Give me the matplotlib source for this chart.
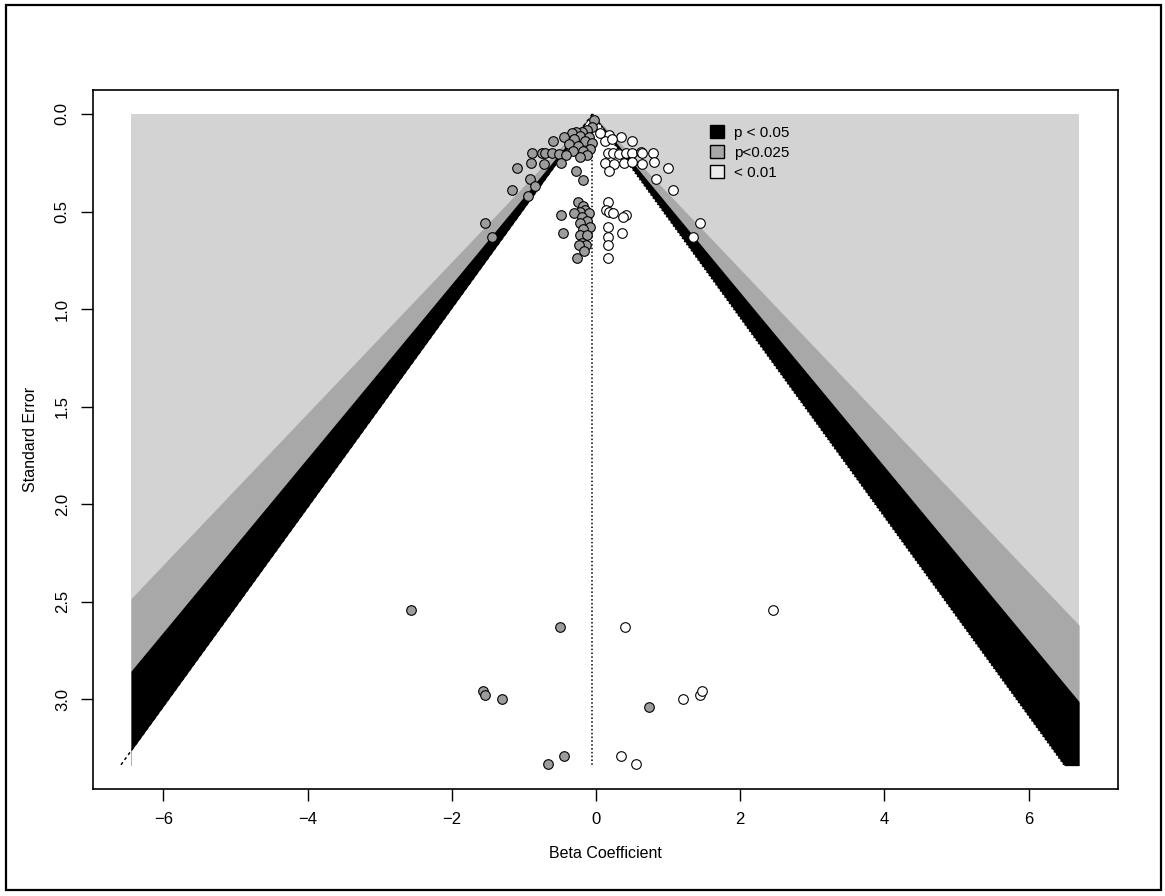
import numpy as np
import matplotlib
matplotlib.use("Agg")
import matplotlib.pyplot as plt
from matplotlib.patches import Patch, Rectangle

plt.rcParams["font.family"] = ["Liberation Sans", "DejaVu Sans"]

# Study estimates (beta coefficient, standard error)
observed_beta = [
    -0.03, -0.05, -0.12, -0.19, -0.28, -0.34, -0.44, -0.60, -0.22, -0.10,
    -0.30, -0.15, -0.05, -0.38, -0.25, -0.08, -0.18, -0.32, -0.12,
    -0.89, -0.75, -0.71, -0.61, -0.51, -0.42, -0.22,
    -0.90, -0.72, -0.48, -1.10, -0.28, -0.91, -0.18, -1.16, -0.84, -0.95,
    -1.54, -1.44,
    -0.25, -0.18, -0.15, -0.22, -0.30, -0.10, -0.48, -0.20, -0.12, -0.22,
    -0.08, -0.18, -0.46, -0.22, -0.12, -0.20, -0.14, -0.24, -0.16, -0.27,
    -2.56, -0.50, -1.57, -1.54, -1.30, 0.74, -0.44, -0.66,
]
observed_se = [
    0.03, 0.065, 0.08, 0.09, 0.095, 0.10, 0.116, 0.137, 0.115, 0.12,
    0.13, 0.14, 0.15, 0.155, 0.165, 0.18, 0.19, 0.19, 0.21,
    0.20, 0.20, 0.20, 0.20, 0.205, 0.21, 0.22,
    0.25, 0.255, 0.25, 0.275, 0.29, 0.335, 0.34, 0.39, 0.37, 0.42,
    0.56, 0.63,
    0.45, 0.47, 0.49, 0.50, 0.51, 0.51, 0.52, 0.53, 0.55, 0.56,
    0.58, 0.59, 0.61, 0.62, 0.62, 0.66, 0.67, 0.67, 0.70, 0.74,
    2.54, 2.63, 2.96, 2.98, 3.00, 3.04, 3.29, 3.33,
]

# Filled-in (imputed) studies
imputed_beta = [
    0.18, 0.34, 0.50, 0.13, 0.05, 0.22,
    0.16, 0.23, 0.32, 0.41, 0.50, 0.62, 0.64, 0.79,
    0.12, 0.25, 0.39, 0.50, 0.64, 0.81,
    1.00, 0.18, 0.83, 1.07, 1.44, 1.34,
    0.16, 0.14, 0.18, 0.24, 0.41, 0.38, 0.17, 0.36, 0.16, 0.16, 0.17,
    0.40, 2.46, 1.20, 1.44, 1.47, 0.35, 0.56,
]
imputed_se = [
    0.108, 0.12, 0.137, 0.14, 0.10, 0.13,
    0.20, 0.20, 0.205, 0.20, 0.20, 0.195, 0.20, 0.20,
    0.25, 0.255, 0.25, 0.245, 0.255, 0.245,
    0.275, 0.29, 0.335, 0.39, 0.56, 0.63,
    0.45, 0.49, 0.50, 0.51, 0.52, 0.53, 0.58, 0.61, 0.63, 0.67, 0.74,
    2.63, 2.54, 3.00, 2.98, 2.96, 3.29, 3.33,
]

center = -0.05
x_range = (-6.45, 6.70)
se_max = 3.34
z_levels = [2.576, 2.241, 1.960]
level_colors = ["#a8a8a8", "black", "white"]
legend_labels = ["p < 0.05", "p<0.025", "< 0.01"]
legend_colors = ["black", "#a8a8a8", "#ececec"]

fig = plt.figure(figsize=(11.65, 8.96), dpi=100)
ax = fig.add_axes([0.0796, 0.1194, 0.8801, 0.7802])

# Contour shading
ax.fill_between(x_range, 0, se_max, color="#d3d3d3", lw=0, zorder=0, antialiased=False)
for z, col in zip(z_levels, level_colors):
    # the innermost (white) region runs a hair past the bottom to hide seams
    bottom = se_max + (0.01 if col == "white" else 0.0)
    se_grid = np.linspace(0, bottom, 600)
    left = np.clip(center - z * se_grid, *x_range)
    right = np.clip(center + z * se_grid, *x_range)
    ax.fill_betweenx(se_grid, left, right, color=col, lw=0, zorder=1, antialiased=False)

# Pseudo confidence limits and reference line
ax.plot([center, center - 1.96 * se_max], [0, se_max], color="black", ls=(0, (2, 2)), lw=1.1, zorder=2)
ax.plot([center, center + 1.96 * se_max], [0, se_max], color="black", ls=(0, (1, 1.5)), lw=1.1, zorder=2)
ax.plot([center, center], [0, se_max], color="black", ls=(0, (1, 1.5)), lw=1.1, zorder=2)

ax.scatter(imputed_beta, imputed_se, s=48, facecolor="white", edgecolor="black", lw=0.8, zorder=3)
ax.scatter(observed_beta, observed_se, s=48, facecolor="#9c9c9c", edgecolor="black", lw=0.8, zorder=4)

ax.set_xlim(-6.98, 7.24)
ax.set_ylim(3.46, -0.123)
ax.set_xticks([-6, -4, -2, 0, 2, 4, 6])
ax.set_xticklabels(["\u22126", "\u22124", "\u22122", "0", "2", "4", "6"])
ax.set_yticks([0, 0.5, 1.0, 1.5, 2.0, 2.5, 3.0])
ax.set_yticklabels(["0.0", "0.5", "1.0", "1.5", "2.0", "2.5", "3.0"], rotation=90, va="center")
ax.tick_params(axis="both", length=8.5, width=1.0, labelsize=12, pad=8)
for sp in ax.spines.values():
    sp.set_linewidth(1.2)

ax.set_xlabel("Beta Coefficient", fontsize=11.5, labelpad=14)
ax.set_ylabel("Standard Error", fontsize=11.5, labelpad=12)

handles = [Patch(facecolor=c, edgecolor="black", lw=1.0) for c in legend_colors]
ax.legend(handles, legend_labels, loc="upper left", bbox_to_anchor=(0.596, 0.958),
          frameon=False, fontsize=11, handlelength=0.9, handleheight=0.9,
          handletextpad=0.7, labelspacing=0.35, borderaxespad=0)

fig.patches.append(Rectangle((6 / 1165, 6 / 896), 1155 / 1165, 885 / 896,
                             transform=fig.transFigure, fill=False,
                             edgecolor="black", lw=1.6))

fig.savefig("out.png", dpi=100)
